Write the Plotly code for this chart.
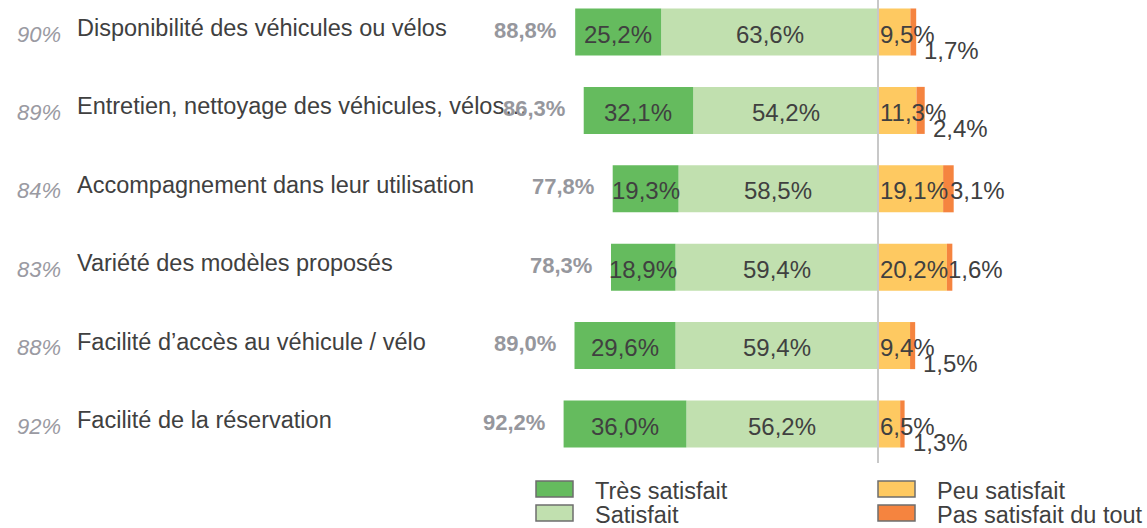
import plotly.graph_objects as go

# Survey results: satisfaction with the shared-vehicle service
categories = [
    "Disponibilité des véhicules ou vélos",
    "Entretien, nettoyage des véhicules, vélos…",
    "Accompagnement dans leur utilisation",
    "Variété des modèles proposés",
    "Facilité d’accès au véhicule / vélo",
    "Facilité de la réservation",
]
previous_pct = [90, 89, 84, 83, 88, 92]          # earlier satisfaction rate
tres_satisfait = [25.2, 32.1, 19.3, 18.9, 29.6, 36.0]
satisfait = [63.6, 54.2, 58.5, 59.4, 59.4, 56.2]
peu_satisfait = [9.5, 11.3, 19.1, 20.2, 9.4, 6.5]
pas_satisfait = [1.7, 2.4, 3.1, 1.6, 1.5, 1.3]

C_TRES = "#65BB5E"
C_SAT = "#C1E0AF"
C_PEU = "#FEC961"
C_PAS = "#F5843F"
TXT = "#404040"
GREY = "#96979D"
FONT = "Liberation Sans, Arial, sans-serif"

W, H = 1147, 528
ZERO_PX = 878
PX_PER_PCT = 3.41
ROW_TOP_PX = 32
ROW_STEP_PX = 78.4

xmin = -ZERO_PX / PX_PER_PCT
xmax = (W - ZERO_PX) / PX_PER_PCT
ymin = -ROW_TOP_PX / ROW_STEP_PX
ymax = ymin + H / ROW_STEP_PX

y = list(range(len(categories)))
totals = [round(a + b, 1) for a, b in zip(tres_satisfait, satisfait)]


def fmt(v):
    return f"{v:.1f}".replace(".", ",") + "%"


fig = go.Figure()
bw = 0.6
fig.add_trace(go.Bar(y=y, x=satisfait, base=[-v for v in satisfait], orientation="h",
                     marker=dict(color=C_SAT, line=dict(width=0)), width=bw, name="Satisfait"))
fig.add_trace(go.Bar(y=y, x=tres_satisfait, base=[-t for t in totals], orientation="h",
                     marker=dict(color=C_TRES, line=dict(width=0)), width=bw, name="Très satisfait"))
fig.add_trace(go.Bar(y=y, x=peu_satisfait, base=[0] * len(y), orientation="h",
                     marker=dict(color=C_PEU, line=dict(width=0)), width=bw, name="Peu satisfait"))
fig.add_trace(go.Bar(y=y, x=pas_satisfait, base=peu_satisfait, orientation="h",
                     marker=dict(color=C_PAS, line=dict(width=0)), width=bw,
                     name="Pas satisfait du tout"))

VAL_FONT = dict(family=FONT, size=24, color=TXT)
ann = []
for i in y:
    # previous rate, italic
    ann.append(dict(x=63 / W, xref="paper", y=i, yref="y", text=f"{previous_pct[i]}%",
                    xanchor="right", yanchor="middle", yshift=-2, showarrow=False,
                    font=dict(family=FONT, size=22, color="#9A9AA2", style="italic")))
    # category label
    ann.append(dict(x=75 / W, xref="paper", y=i, yref="y", text=categories[i],
                    xanchor="left", yanchor="middle", yshift=4, showarrow=False,
                    font=dict(family=FONT, size=23.5, color=TXT)))
    # overall satisfaction total
    ann.append(dict(x=-totals[i], y=i, text=f"<b>{fmt(totals[i])}</b>", xanchor="right",
                    yanchor="middle", xshift=-17, yshift=2, showarrow=False,
                    font=dict(family=FONT, size=22, color=GREY)))
    # segment values
    ann.append(dict(x=-totals[i] + tres_satisfait[i] / 2, y=i, text=fmt(tres_satisfait[i]),
                    showarrow=False, yanchor="middle", yshift=-2, font=VAL_FONT))
    ann.append(dict(x=-satisfait[i] / 2, y=i, text=fmt(satisfait[i]),
                    showarrow=False, yanchor="middle", yshift=-2, font=VAL_FONT))
    ann.append(dict(x=0, y=i, text=fmt(peu_satisfait[i]), xanchor="left", xshift=0,
                    showarrow=False, yanchor="middle", yshift=-2, font=VAL_FONT))
    narrow = peu_satisfait[i] < 15
    ann.append(dict(x=peu_satisfait[i] + pas_satisfait[i], y=i, text=fmt(pas_satisfait[i]),
                    xanchor="left", xshift=6 if narrow else -6, yshift=-18 if narrow else -2,
                    showarrow=False, yanchor="middle", font=VAL_FONT))

# legend drawn as two columns below the bars
legend_items = [
    ("Très satisfait", C_TRES, 536, 481),
    ("Satisfait", C_SAT, 536, 505),
    ("Peu satisfait", C_PEU, 878, 481),
    ("Pas satisfait du tout", C_PAS, 878, 505),
]
shapes = []
for label, color, lx, ly in legend_items:
    shapes.append(dict(type="rect", xref="paper", yref="paper",
                       x0=lx / W, x1=(lx + 37) / W, y0=1 - ly / H, y1=1 - (ly + 16) / H,
                       fillcolor=color, line=dict(color="#6E6E6E", width=1.5)))
    ann.append(dict(x=(lx + 57) / W, xref="paper", y=1 - (ly + 10) / H, yref="paper",
                    text=label, xanchor="left", yanchor="middle", showarrow=False,
                    font=dict(family=FONT, size=23.5, color=TXT)))

# zero line
shapes.append(dict(type="line", xref="x", yref="paper", x0=0, x1=0, y0=1, y1=1 - 463 / H,
                   line=dict(color="#C8C8C8", width=2), layer="above"))

fig.update_layout(
    width=W, height=H, margin=dict(l=0, r=0, t=0, b=0),
    paper_bgcolor="white", plot_bgcolor="white",
    barmode="overlay", showlegend=False,
    xaxis=dict(range=[xmin, xmax], visible=False, fixedrange=True),
    yaxis=dict(range=[ymax, ymin], visible=False, fixedrange=True),
    annotations=ann, shapes=shapes,
)

fig.write_html("out.html")
